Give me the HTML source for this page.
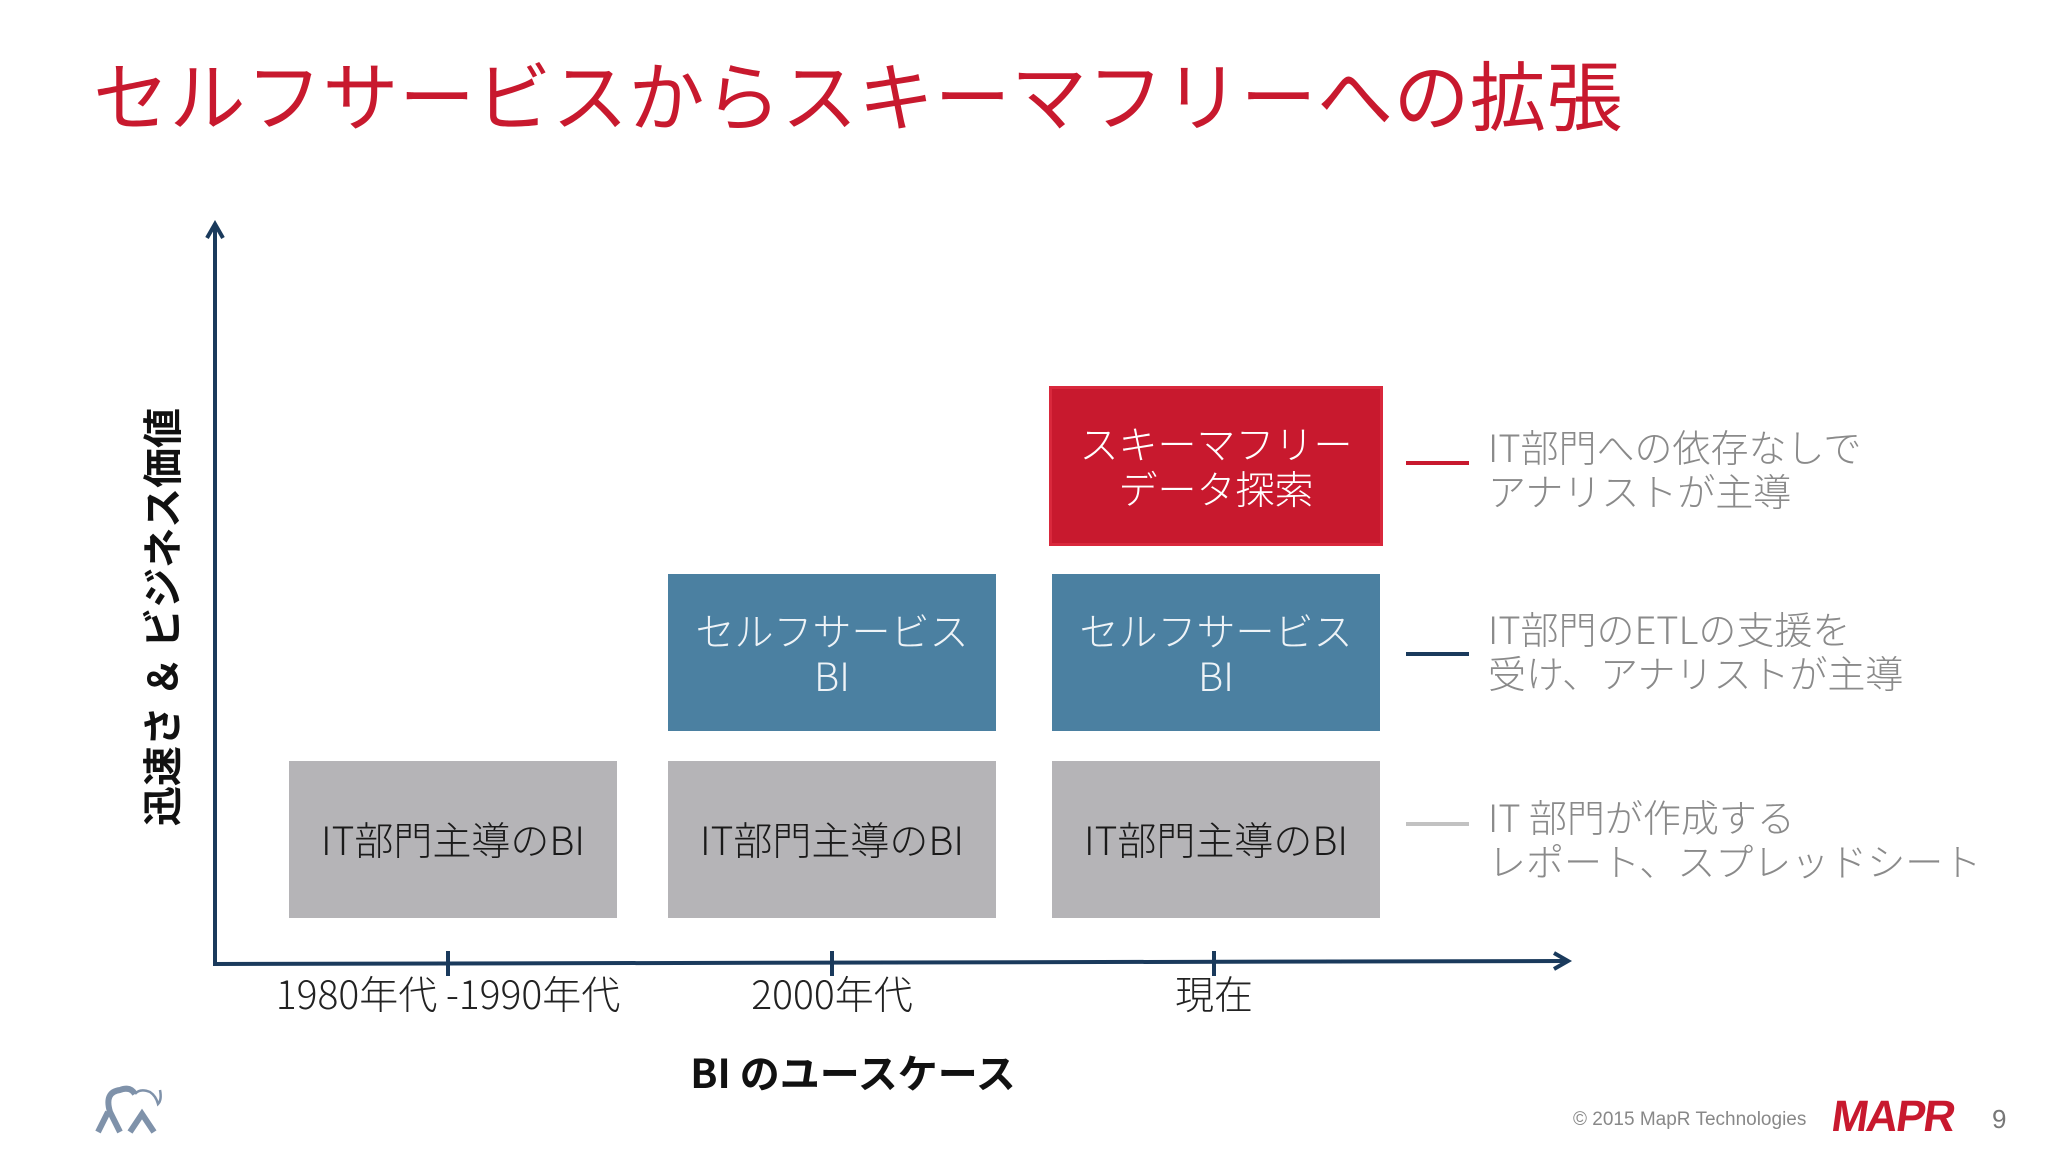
<!DOCTYPE html>
<html><head><meta charset="utf-8">
<style>
*{margin:0;padding:0;box-sizing:border-box}
body{width:2048px;height:1153px;background:#fff;position:relative;overflow:hidden;font-family:"Liberation Sans","Noto Sans CJK JP",sans-serif}
.abs{position:absolute}
.box{position:absolute;display:flex;align-items:center;justify-content:center;text-align:center;font-size:39px;line-height:45px;font-family:"Noto Sans CJK JP","Liberation Sans",sans-serif;font-weight:300}
.leg{position:absolute;font-size:38px;line-height:44px;color:#8a8a8a;font-family:"Noto Sans CJK JP",sans-serif;font-weight:300;white-space:nowrap}
.xl{position:absolute;font-size:39px;color:#222;transform:translateX(-50%);white-space:nowrap;font-family:"Noto Sans CJK JP",sans-serif;font-weight:300}
</style></head><body>
<div class="abs" style="left:93px;top:47px;font-size:76px;line-height:90px;color:#c8192e;font-family:'Noto Sans CJK JP',sans-serif;font-weight:400;letter-spacing:0.5px;white-space:nowrap">セルフサービスからスキーマフリーへの拡張</div>

<svg class="abs" style="left:0;top:0" width="2048" height="1153">
<line x1="215" y1="964" x2="215" y2="226" stroke="#1a3a5c" stroke-width="4"/>
<polyline points="207,238 215,224 223,238" fill="none" stroke="#1a3a5c" stroke-width="4"/>
<line x1="213" y1="964" x2="1566" y2="961" stroke="#1a3a5c" stroke-width="4"/>
<polyline points="1554,953 1568,961 1554,969" fill="none" stroke="#1a3a5c" stroke-width="4"/>
<g id="ticks"></g>
<g id="legendLines"></g>
</svg>
<div id="boxes"></div>
<div id="xlabels"></div>
<div id="legends"></div>

<div class="abs" style="left:853px;top:1042px;transform:translateX(-50%);font-size:40px;font-weight:bold;color:#111;white-space:nowrap;font-family:'Noto Sans CJK JP',sans-serif">BI のユースケース</div>
<div class="abs" style="left:160px;top:617px;transform:translate(-50%,-50%) rotate(-90deg);font-size:40px;font-weight:bold;color:#111;white-space:nowrap;font-family:'Noto Sans CJK JP',sans-serif">迅速さ ＆ ビジネス価値</div>

<svg class="abs" style="left:90px;top:1082px" width="80" height="55">
<path d="M8,50 L18,30 M30,50 L20,30 Q14,10 30,8 Q40,4 45,12 M40,50 L52,32 L64,50" fill="none" stroke="#7f92aa" stroke-width="6"/>
<path d="M45,12 Q50,6 60,10 Q66,14 68,22 Q72,18 70,8" fill="none" stroke="#7f92aa" stroke-width="2.5"/>
</svg>
<div class="abs" style="left:1573px;top:1109px;font-size:19px;color:#888">© 2015 MapR Technologies</div>
<div class="abs" style="left:1832px;top:1092px;font-size:44px;font-weight:bold;color:#c8192e;letter-spacing:-2px;transform:skewX(-8deg)">MAPR</div>
<div class="abs" style="left:1992px;top:1104px;font-size:26px;color:#777">9</div>

<script>
const categories=["1980年代 -1990年代","2000年代","現在"];
const tickX=[448,832,1214];
const levels=["IT部門主導のBI","セルフサービス<br>BI","スキーマフリー<br>データ探索"];
const presence=[[1,0,0],[1,1,0],[1,1,1]];
const legendText=["IT 部門が作成する<br>レポート、スプレッドシート","IT部門のETLの支援を<br>受け、アナリストが主導","IT部門への依存なしで<br>アナリストが主導"];
const levelColors=["#b5b4b7","#4b80a1","#c8192e"];
const textColors=["#1a1a1a","#eef3f7","#ffffff"];
const legColors=["#c2c2c2","#1a3a5c","#c8192e"];
const colX=c=>[289,668,1052][c];
const lvlY=l=>[761,574,386][l];
const lvlH=l=>[157,157,160];
const ns="http://www.w3.org/2000/svg";
const tg=document.getElementById('ticks');
tickX.forEach((x,i)=>{const t=document.createElementNS(ns,'line');


t.setAttribute('x1',x);t.setAttribute('x2',x);t.setAttribute('y1',951);t.setAttribute('y2',976);t.setAttribute('stroke','#1a3a5c');t.setAttribute('stroke-width',4);tg.appendChild(t);
const d=document.createElement('div');d.className='xl';


d.style.left=(x)+'px';d.style.top='965px';d.innerHTML=categories[i];document.getElementById('xlabels').appendChild(d);});
const bx=document.getElementById('boxes');
presence.forEach((col,c)=>col.forEach((p,l)=>{if(!p)return;const d=document.createElement('div');d.className='box';


const w=l==2?334:328;d.style.left=(colX(c)-(l==2?3:0))+'px';d.style.top=lvlY(l)+'px';d.style.width=w+'px';d.style.height=lvlH(l)[l]+'px';
d.style.background=levelColors[l];d.style.color=textColors[l];if(l==2)d.style.border='3px solid #d9283c';d.innerHTML=levels[l];bx.appendChild(d);}));
const lg=document.getElementById('legendLines');const lt=document.getElementById('legends');
const legY=[824,654,463],legTop=[794,606,424];
legendText.forEach((t,i)=>{const ln=document.createElementNS(ns,'line');


ln.setAttribute('x1',1406);ln.setAttribute('x2',1469);ln.setAttribute('y1',legY[i]);ln.setAttribute('y2',legY[i]);ln.setAttribute('stroke',legColors[i]);ln.setAttribute('stroke-width',4);lg.appendChild(ln);
const d=document.createElement('div');d.className='leg';


d.style.left='1488px';d.style.top=legTop[i]+'px';d.innerHTML=t;lt.appendChild(d);});
</script>
</body></html>
